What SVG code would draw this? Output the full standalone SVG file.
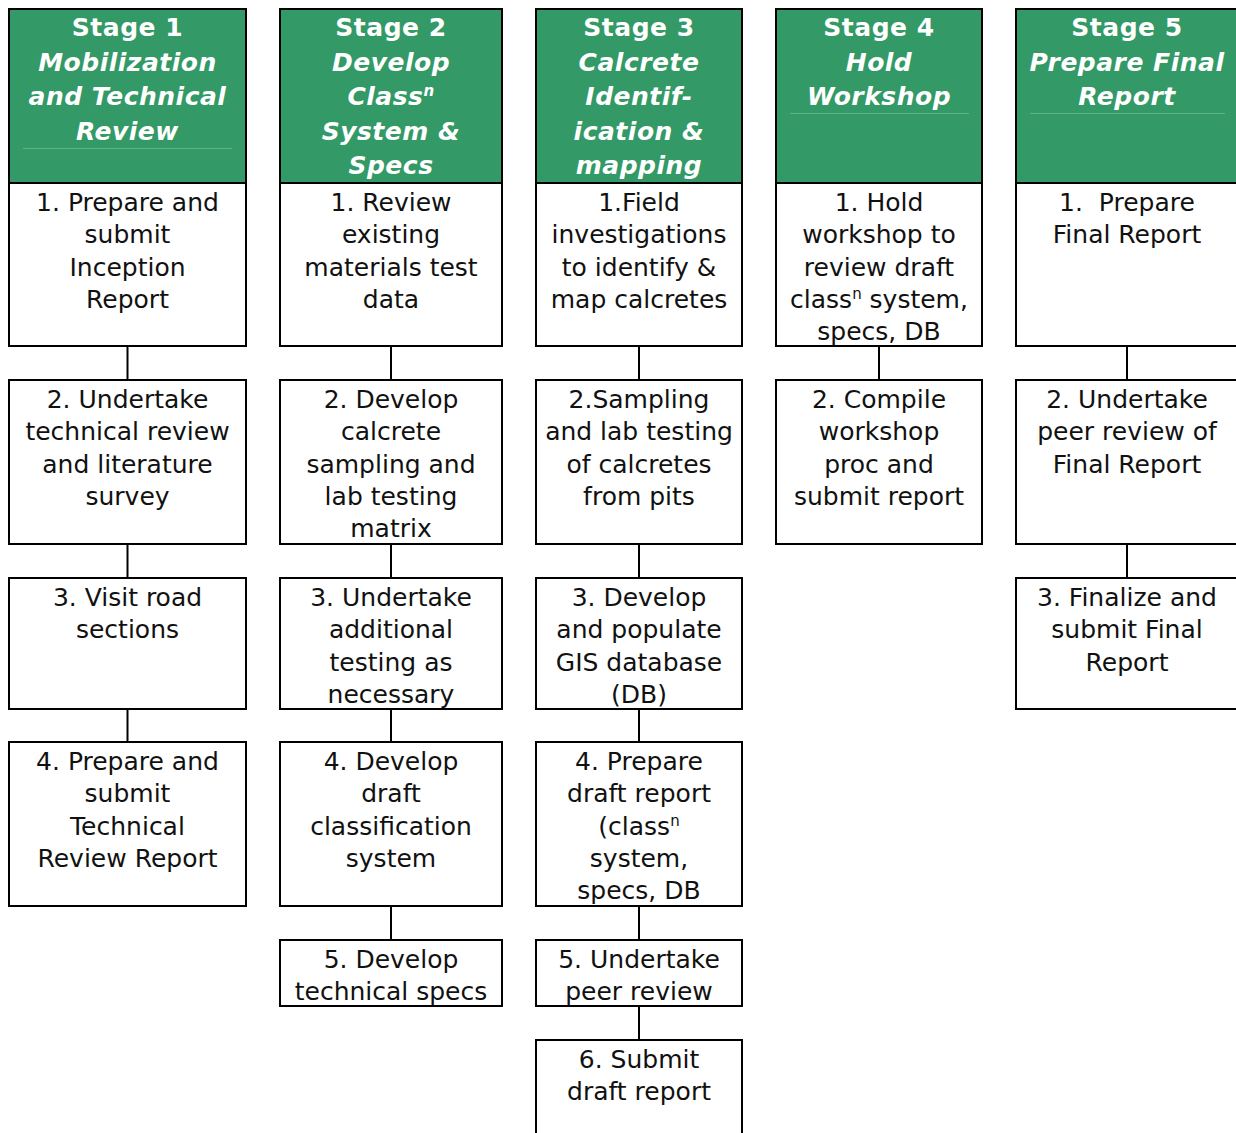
<svg xmlns="http://www.w3.org/2000/svg" width="1236" height="1133" viewBox="0 0 1236 1133">
<style>
.hdr{fill:#339966;stroke:#000;stroke-width:2}
.box{fill:#fff;stroke:#000;stroke-width:2}
.hl{stroke:#5cb386;stroke-width:1}
.ht{font-family:"DejaVu Sans",Verdana,sans-serif;font-size:25px;font-weight:bold;fill:#fff;text-anchor:middle;letter-spacing:0.5px}
.hi{font-style:italic}
.bt{font-family:"DejaVu Sans",Verdana,sans-serif;font-size:25px;fill:#111;text-anchor:middle;white-space:pre}
.sup{font-size:15px;baseline-shift:super}
.con{stroke:#000;stroke-width:2;fill:none}
</style>
<rect width="1236" height="1133" fill="#fff"/>
<g id="connectors">
<line class="con" x1="127.5" y1="346" x2="127.5" y2="380"/>
<line class="con" x1="127.5" y1="544" x2="127.5" y2="578"/>
<line class="con" x1="127.5" y1="709" x2="127.5" y2="742"/>
<line class="con" x1="391" y1="346" x2="391" y2="380"/>
<line class="con" x1="391" y1="544" x2="391" y2="578"/>
<line class="con" x1="391" y1="709" x2="391" y2="742"/>
<line class="con" x1="391" y1="906" x2="391" y2="940"/>
<line class="con" x1="639" y1="346" x2="639" y2="380"/>
<line class="con" x1="639" y1="544" x2="639" y2="578"/>
<line class="con" x1="639" y1="709" x2="639" y2="742"/>
<line class="con" x1="639" y1="906" x2="639" y2="940"/>
<line class="con" x1="639" y1="1006" x2="639" y2="1040"/>
<line class="con" x1="879" y1="346" x2="879" y2="380"/>
<line class="con" x1="1127" y1="346" x2="1127" y2="380"/>
<line class="con" x1="1127" y1="544" x2="1127" y2="578"/>
</g>
<g id="stage1-header">
<rect class="hdr" x="9" y="9" width="237" height="174"/>
<line class="hl" x1="23" y1="148.5" x2="232" y2="148.5"/>
<text class="ht" x="127.5" y="36">Stage 1</text>
<text class="ht hi" x="127.5" y="70.5">Mobilization</text>
<text class="ht hi" x="127.5" y="105">and Technical</text>
<text class="ht hi" x="127.5" y="139.5">Review</text>
</g>
<g id="stage2-header">
<rect class="hdr" x="280" y="9" width="222" height="174"/>
<text class="ht" x="391" y="36">Stage 2</text>
<text class="ht hi" x="391" y="70.5">Develop</text>
<text class="ht hi" x="391" y="105">Class<tspan class="sup">n</tspan></text>
<text class="ht hi" x="391" y="139.5">System &amp;</text>
<text class="ht hi" x="391" y="174">Specs</text>
</g>
<g id="stage3-header">
<rect class="hdr" x="536" y="9" width="206" height="174"/>
<text class="ht" x="639" y="36">Stage 3</text>
<text class="ht hi" x="639" y="70.5">Calcrete</text>
<text class="ht hi" x="639" y="105">Identif-</text>
<text class="ht hi" x="639" y="139.5">ication &amp;</text>
<text class="ht hi" x="639" y="174">mapping</text>
</g>
<g id="stage4-header">
<rect class="hdr" x="776" y="9" width="206" height="174"/>
<line class="hl" x1="790" y1="113.5" x2="969" y2="113.5"/>
<text class="ht" x="879" y="36">Stage 4</text>
<text class="ht hi" x="879" y="70.5">Hold</text>
<text class="ht hi" x="879" y="105">Workshop</text>
</g>
<g id="stage5-header">
<rect class="hdr" x="1016" y="9" width="224" height="174"/>
<line class="hl" x1="1030" y1="113.5" x2="1225" y2="113.5"/>
<text class="ht" x="1127" y="36">Stage 5</text>
<text class="ht hi" x="1127" y="70.5">Prepare Final</text>
<text class="ht hi" x="1127" y="105">Report</text>
</g>
<g id="s1-1"><rect class="box" x="9" y="183" width="237" height="163"/>
<text class="bt" x="127.5" y="211">1. Prepare and</text><text class="bt" x="127.5" y="243.3">submit</text><text class="bt" x="127.5" y="275.6">Inception</text><text class="bt" x="127.5" y="307.9">Report</text></g>
<g id="s1-2"><rect class="box" x="9" y="380" width="237" height="164"/>
<text class="bt" x="127.5" y="408">2. Undertake</text><text class="bt" x="127.5" y="440.3">technical review</text><text class="bt" x="127.5" y="472.6">and literature</text><text class="bt" x="127.5" y="504.9">survey</text></g>
<g id="s1-3"><rect class="box" x="9" y="578" width="237" height="131"/>
<text class="bt" x="127.5" y="606">3. Visit road</text><text class="bt" x="127.5" y="638.3">sections</text></g>
<g id="s1-4"><rect class="box" x="9" y="742" width="237" height="164"/>
<text class="bt" x="127.5" y="770">4. Prepare and</text><text class="bt" x="127.5" y="802.3">submit</text><text class="bt" x="127.5" y="834.6">Technical</text><text class="bt" x="127.5" y="866.9">Review Report</text></g>
<g id="s2-1"><rect class="box" x="280" y="183" width="222" height="163"/>
<text class="bt" x="391" y="211">1. Review</text><text class="bt" x="391" y="243.3">existing</text><text class="bt" x="391" y="275.6">materials test</text><text class="bt" x="391" y="307.9">data</text></g>
<g id="s2-2"><rect class="box" x="280" y="380" width="222" height="164"/>
<text class="bt" x="391" y="408">2. Develop</text><text class="bt" x="391" y="440.3">calcrete</text><text class="bt" x="391" y="472.6">sampling and</text><text class="bt" x="391" y="504.9">lab testing</text><text class="bt" x="391" y="537.2">matrix</text></g>
<g id="s2-3"><rect class="box" x="280" y="578" width="222" height="131"/>
<text class="bt" x="391" y="606">3. Undertake</text><text class="bt" x="391" y="638.3">additional</text><text class="bt" x="391" y="670.6">testing as</text><text class="bt" x="391" y="702.9">necessary</text></g>
<g id="s2-4"><rect class="box" x="280" y="742" width="222" height="164"/>
<text class="bt" x="391" y="770">4. Develop</text><text class="bt" x="391" y="802.3">draft</text><text class="bt" x="391" y="834.6">classification</text><text class="bt" x="391" y="866.9">system</text></g>
<g id="s2-5"><rect class="box" x="280" y="940" width="222" height="66"/>
<text class="bt" x="391" y="968">5. Develop</text><text class="bt" x="391" y="1000.3">technical specs</text></g>
<g id="s3-1"><rect class="box" x="536" y="183" width="206" height="163"/>
<text class="bt" x="639" y="211">1.Field</text><text class="bt" x="639" y="243.3">investigations</text><text class="bt" x="639" y="275.6">to identify &amp;</text><text class="bt" x="639" y="307.9">map calcretes</text></g>
<g id="s3-2"><rect class="box" x="536" y="380" width="206" height="164"/>
<text class="bt" x="639" y="408">2.Sampling</text><text class="bt" x="639" y="440.3">and lab testing</text><text class="bt" x="639" y="472.6">of calcretes</text><text class="bt" x="639" y="504.9">from pits</text></g>
<g id="s3-3"><rect class="box" x="536" y="578" width="206" height="131"/>
<text class="bt" x="639" y="606">3. Develop</text><text class="bt" x="639" y="638.3">and populate</text><text class="bt" x="639" y="670.6">GIS database</text><text class="bt" x="639" y="702.9">(DB)</text></g>
<g id="s3-4"><rect class="box" x="536" y="742" width="206" height="164"/>
<text class="bt" x="639" y="770">4. Prepare</text><text class="bt" x="639" y="802.3">draft report</text><text class="bt" x="639" y="834.6">(class<tspan class="sup">n</tspan></text><text class="bt" x="639" y="866.9">system,</text><text class="bt" x="639" y="899.2">specs, DB</text></g>
<g id="s3-5"><rect class="box" x="536" y="940" width="206" height="66"/>
<text class="bt" x="639" y="968">5. Undertake</text><text class="bt" x="639" y="1000.3">peer review</text></g>
<g id="s3-6"><rect class="box" x="536" y="1040" width="206" height="110"/>
<text class="bt" x="639" y="1068">6. Submit</text><text class="bt" x="639" y="1100.3">draft report</text></g>
<g id="s4-1"><rect class="box" x="776" y="183" width="206" height="163"/>
<text class="bt" x="879" y="211">1. Hold</text><text class="bt" x="879" y="243.3">workshop to</text><text class="bt" x="879" y="275.6">review draft</text><text class="bt" x="879" y="307.9">class<tspan class="sup">n</tspan><tspan> system,</tspan></text><text class="bt" x="879" y="340.2">specs, DB</text></g>
<g id="s4-2"><rect class="box" x="776" y="380" width="206" height="164"/>
<text class="bt" x="879" y="408">2. Compile</text><text class="bt" x="879" y="440.3">workshop</text><text class="bt" x="879" y="472.6">proc and</text><text class="bt" x="879" y="504.9">submit report</text></g>
<g id="s5-1"><rect class="box" x="1016" y="183" width="224" height="163"/>
<text class="bt" x="1127" y="211">1.  Prepare</text><text class="bt" x="1127" y="243.3">Final Report</text></g>
<g id="s5-2"><rect class="box" x="1016" y="380" width="224" height="164"/>
<text class="bt" x="1127" y="408">2. Undertake</text><text class="bt" x="1127" y="440.3">peer review of</text><text class="bt" x="1127" y="472.6">Final Report</text></g>
<g id="s5-3"><rect class="box" x="1016" y="578" width="224" height="131"/>
<text class="bt" x="1127" y="606">3. Finalize and</text><text class="bt" x="1127" y="638.3">submit Final</text><text class="bt" x="1127" y="670.6">Report</text></g>
</svg>
